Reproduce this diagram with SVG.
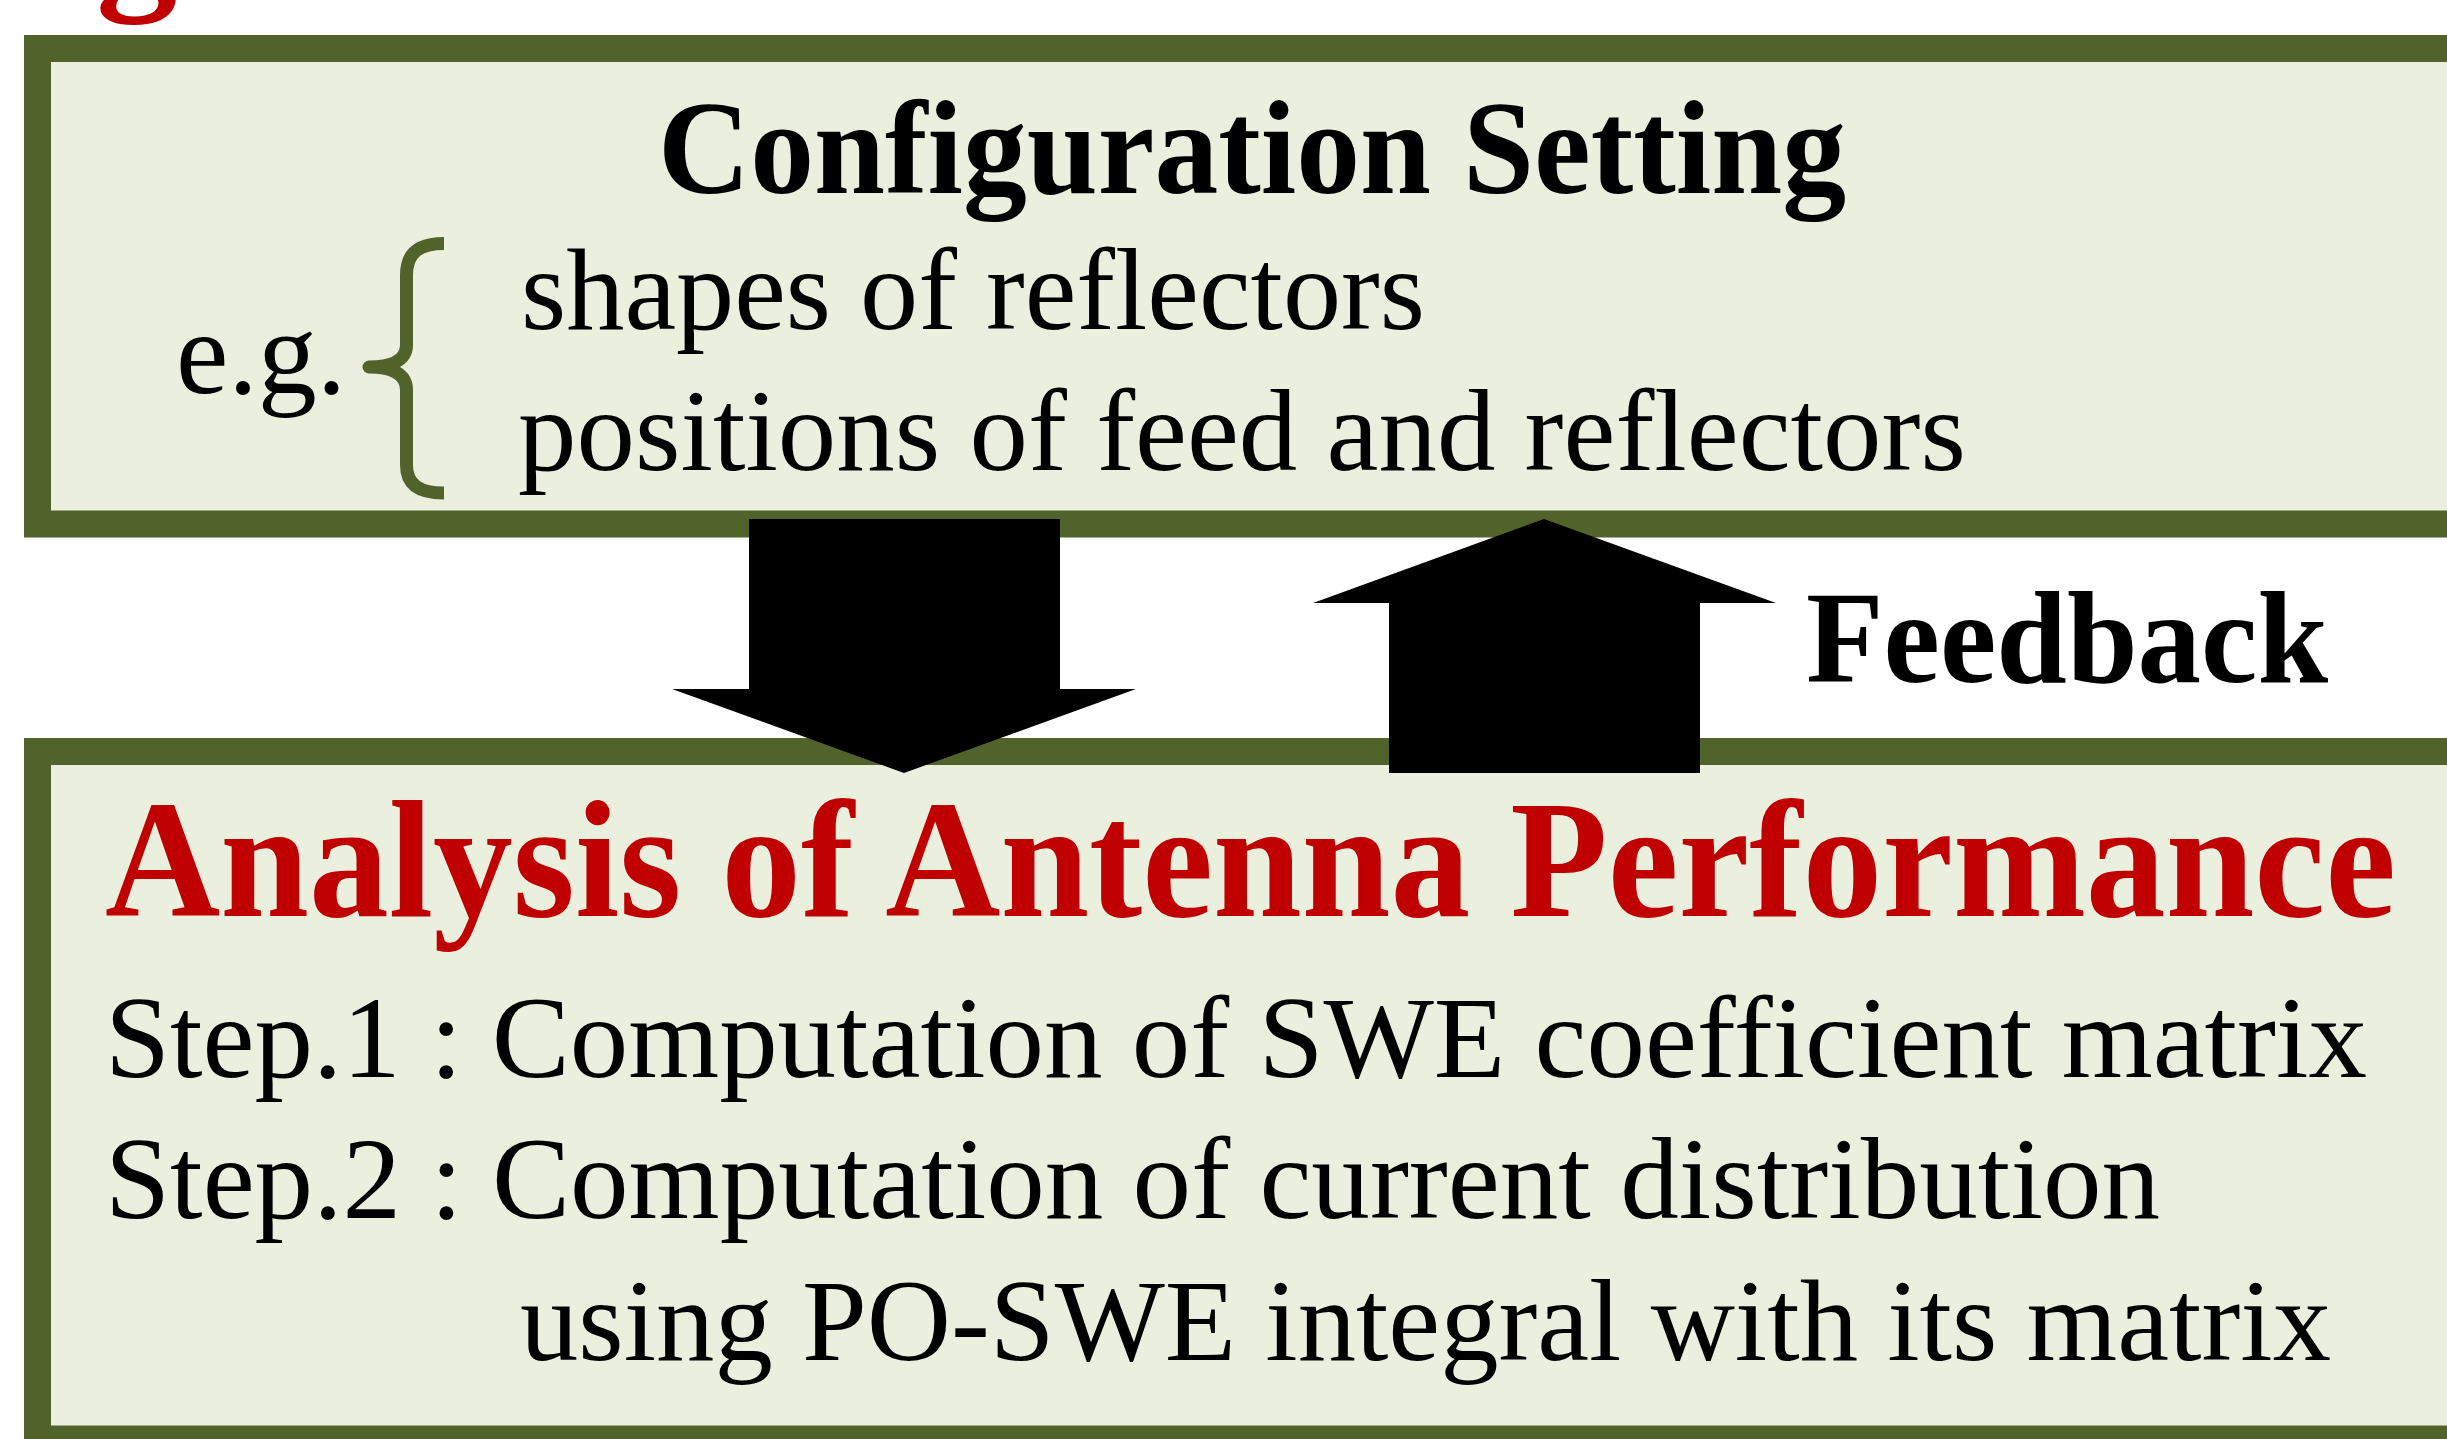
<svg xmlns="http://www.w3.org/2000/svg" width="2447" height="1439" viewBox="0 0 2447 1439">
<style>
.box{fill:#EBF0DE;stroke:#51622B;stroke-width:27}
.b{font-family:'Liberation Serif',serif;font-weight:700}
.r{font-family:'Liberation Serif',serif;font-weight:400}
.arrow{fill:#000}
</style>
<rect width="2447" height="1439" fill="#ffffff"/>
<text class="b" x="96" y="-11" font-size="163" fill="#C00000">g</text>
<g id="config">
<rect class="box" x="37.5" y="48.5" width="2447" height="475.5"/>
<text class="b" transform="translate(658,193) scale(1,1.04)" x="0" y="0" font-size="128" textLength="1188" lengthAdjust="spacingAndGlyphs">Configuration Setting</text>
<text class="r" x="176" y="393" font-size="118">e.g.</text>
<path d="M444,243.5 C420,243.5 406.5,252 406.5,275 L406.5,345 C406.5,360 392,367 369,367 C392,367 406.5,374 406.5,390 L406.5,465 C406.5,485 420,493 444,493" fill="none" stroke="#51622B" stroke-width="13" stroke-linejoin="round"/>
<text class="r" x="521" y="329" font-size="117" textLength="904" lengthAdjust="spacingAndGlyphs">shapes of reflectors</text>
<text class="r" x="518" y="470" font-size="117" textLength="1448" lengthAdjust="spacingAndGlyphs">positions of feed and reflectors</text>
</g>
<g id="analysis">
<rect class="box" x="37.5" y="751.5" width="2447" height="687.5"/>
<text class="b" transform="translate(105,916) scale(1,1.05)" x="0" y="0" font-size="159" fill="#C00000" textLength="2291" lengthAdjust="spacingAndGlyphs">Analysis of Antenna Performance</text>
<text class="r" x="105" y="1077" font-size="117" textLength="2262" lengthAdjust="spacingAndGlyphs">Step.1 : Computation of SWE coefficient matrix</text>
<text class="r" x="105" y="1218" font-size="117" textLength="2055" lengthAdjust="spacingAndGlyphs">Step.2 : Computation of current distribution</text>
<text class="r" x="520" y="1360" font-size="117" textLength="1811" lengthAdjust="spacingAndGlyphs">using PO-SWE integral with its matrix</text>
</g>
<g id="connectors">
<polygon class="arrow" points="749,519 1060,519 1060,689 1136,689 904,773 672,689 749,689"/>
<polygon class="arrow" points="1544,519 1776,603 1700,603 1700,773 1389,773 1389,603 1313,603"/>
<text class="b" transform="translate(1806,682) scale(1,1.04)" x="0" y="0" font-size="127" textLength="522" lengthAdjust="spacingAndGlyphs">Feedback</text>
</g>
</svg>
